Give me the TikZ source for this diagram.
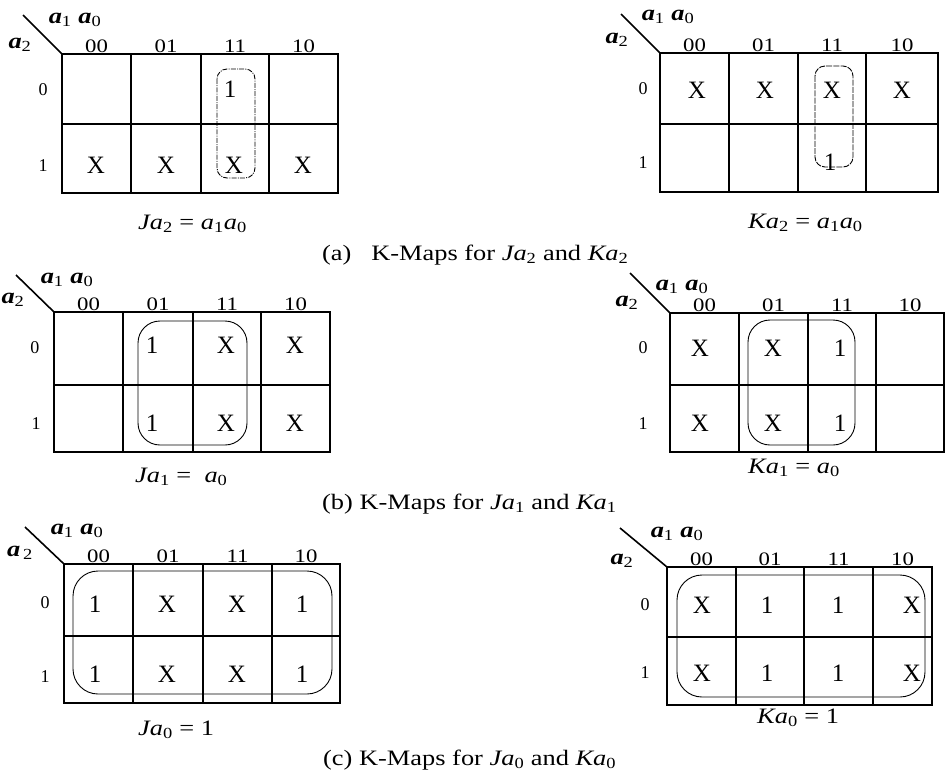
\documentclass[tikz,border=0pt]{standalone}
\usepackage{fontspec}
\setmainfont[FakeStretch=1.2]{Liberation Serif}
\newfontfamily\entryfont{Liberation Serif}
\newcommand\iv[2]{\textit{#1}\textsubscript{#2}}
\newcommand\bv[2]{\textbf{\textit{#1}}\textsubscript{#2}}
\tikzset{
  gridline/.style={line width=1.8pt, line cap=rect},
  diagline/.style={line width=1.6pt},
  loopline/.style={line width=0.9pt},
  entry/.style={font=\entryfont\fontsize{25}{27}\selectfont, inner sep=0pt},
  collab/.style={font=\fontsize{19}{21}\selectfont, anchor=base, inner sep=0pt},
  rowlab/.style={font=\entryfont\fontsize{18}{20}\selectfont, inner sep=0pt},
  varlab/.style={font=\fontsize{22}{24}\selectfont, inner sep=0pt},
  eqn/.style={font=\fontsize{22}{24}\selectfont, inner sep=0pt, anchor=base west},
  capt/.style={font=\fontsize{22}{24}\selectfont, inner sep=0pt, anchor=base west},
}
% name x0 x1 x2 x3 x4 y0 y1 y2
\newcommand\kgrid[9]{%
  \draw[gridline] (#2,#7) rectangle (#6,#9);
  \draw[gridline] (#2,#8) -- (#6,#8);
  \foreach \xx in {#3,#4,#5} \draw[gridline] (\xx,#7) -- (\xx,#9);
  \node[collab] (#1ca) at ({(#2+#3)/2},#7-2) {00};
  \node[collab] (#1cb) at ({(#3+#4)/2},#7-2) {01};
  \node[collab] (#1cc) at ({(#4+#5)/2},#7-2) {11};
  \node[collab] (#1cd) at ({(#5+#6)/2},#7-2) {10};
}
\begin{document}
\begin{tikzpicture}[x=1pt,y=-1pt]
\useasboundingbox (0,0) rectangle (946,772);

% ================= (a) left =================
\kgrid{aL}{62}{131}{201}{269}{338}{54}{124}{193}
\coordinate (aLd) at (23,15); \coordinate (aLk) at (62,54);
\draw[diagline] (aLd) -- (aLk);
\node[varlab] (aLh) at (75,20) {\bv{a}{1} \bv{a}{0}};
\node[varlab] (aLv) at (20,45) {\bv{a}{2}};
\node[rowlab] (aLr0) at (43,90) {0};
\node[rowlab] (aLr1) at (43,166) {1};
\node[entry] (aL01) at (230,89) {1};
\node[entry] (aLX1) at (96,165) {X};
\node[entry] (aLX2) at (166,165) {X};
\node[entry] (aLX3) at (234,165) {X};
\node[entry] (aLX4) at (303,165) {X};
\draw[loopline, dash pattern=on 5pt off 1.2pt on 1pt off 1.2pt, rounded corners=10pt] (217,69) rectangle (255,178);
\node[eqn] (aLe) at (138,229) {\iv{Ja}{2} = \iv{a}{1}\iv{a}{0}};

% ================= (a) right =================
\kgrid{aR}{660}{729}{798}{866}{938}{53}{124}{192}
\coordinate (aRd) at (621,14); \coordinate (aRk) at (660,53);
\draw[diagline] (aRd) -- (aRk);
\node[varlab] (aRh) at (668,17) {\bv{a}{1} \bv{a}{0}};
\node[varlab] (aRv) at (617,40) {\bv{a}{2}};
\node[rowlab] (aRr0) at (643,89) {0};
\node[rowlab] (aRr1) at (643,163) {1};
\node[entry] (aRX1) at (697,90) {X};
\node[entry] (aRX2) at (765,90) {X};
\node[entry] (aRX3) at (832,90) {X};
\node[entry] (aRX4) at (902,90) {X};
\node[entry] (aR1) at (830,162) {1};
\draw[loopline, dash pattern=on 6pt off 1.2pt, rounded corners=10pt] (815,66) rectangle (853,167);
\node[eqn] (aRe) at (748,228) {\iv{Ka}{2} = \iv{a}{1}\iv{a}{0}};

\node[capt] (capa) at (322,260) {(a)\ \ \ K-Maps for \iv{Ja}{2} and \iv{Ka}{2}};

% ================= (b) left =================
\kgrid{bL}{54}{123}{193}{261}{330}{312}{385}{452}
\coordinate (bLd) at (16,275); \coordinate (bLk) at (54,312);
\draw[diagline] (bLd) -- (bLk);
\node[varlab] (bLh) at (67,280) {\bv{a}{1} \bv{a}{0}};
\node[varlab] (bLv) at (13,300) {\bv{a}{2}};
\node[rowlab] (bLr0) at (35,348) {0};
\node[rowlab] (bLr1) at (36,424) {1};
\node[entry] (bL1a) at (152,345) {1};
\node[entry] (bLXa) at (226,345) {X};
\node[entry] (bLXb) at (295,345) {X};
\node[entry] (bL1b) at (152,423) {1};
\node[entry] (bLXc) at (226,423) {X};
\node[entry] (bLXd) at (295,423) {X};
\draw[loopline, rounded corners=22pt] (138,321) rectangle (247,445);
\node[eqn] (bLe) at (135,482) {\iv{Ja}{1} =\ \ \iv{a}{0}};

% ================= (b) right =================
\kgrid{bR}{670}{739}{808}{876}{944}{313}{385}{452}
\coordinate (bRd) at (630,273); \coordinate (bRk) at (670,313);
\draw[diagline] (bRd) -- (bRk);
\node[varlab] (bRh) at (682,287) {\bv{a}{1} \bv{a}{0}};
\node[varlab] (bRv) at (627,303) {\bv{a}{2}};
\node[rowlab] (bRr0) at (643,348) {0};
\node[rowlab] (bRr1) at (643,424) {1};
\node[entry] (bRXa) at (700,348) {X};
\node[entry] (bRXb) at (773,348) {X};
\node[entry] (bR1a) at (840,348) {1};
\node[entry] (bRXc) at (700,423) {X};
\node[entry] (bRXd) at (773,423) {X};
\node[entry] (bR1b) at (840,423) {1};
\draw[loopline, rounded corners=22pt] (748,320) rectangle (855,445);
\node[eqn] (bRe) at (748,473) {\iv{Ka}{1} = \iv{a}{0}};

\node[capt] (capb) at (322,509) {(b) K-Maps for \iv{Ja}{1} and \iv{Ka}{1}};

% ================= (c) left =================
\kgrid{cL}{64}{133}{203}{272}{340}{564}{636}{703}
\coordinate (cLd) at (25,527); \coordinate (cLk) at (64,564);
\draw[diagline] (cLd) -- (cLk);
\node[varlab] (cLh) at (77,531) {\bv{a}{1} \bv{a}{0}};
\node[varlab] (cLv) at (20,553) {\textbf{\textit{a}}\textsubscript{\,2}};
\node[rowlab] (cLr0) at (45,603) {0};
\node[rowlab] (cLr1) at (45,677) {1};
\node[entry] (cL1a) at (95,604) {1};
\node[entry] (cLXa) at (167,604) {X};
\node[entry] (cLXb) at (237,604) {X};
\node[entry] (cL1b) at (302,604) {1};
\node[entry] (cL1c) at (95,674) {1};
\node[entry] (cLXc) at (167,674) {X};
\node[entry] (cLXd) at (237,674) {X};
\node[entry] (cL1d) at (302,674) {1};
\draw[loopline, rounded corners=25pt] (73,571) rectangle (332,694);
\node[eqn] (cLe) at (138,735) {\iv{Ja}{0} = 1};

% ================= (c) right =================
\kgrid{cR}{667}{736}{804}{873}{932}{567}{637}{705}
\coordinate (cRd) at (620,528); \coordinate (cRk) at (667,567);
\draw[diagline] (cRd) -- (cRk);
\node[varlab] (cRh) at (677,534) {\bv{a}{1} \bv{a}{0}};
\node[varlab] (cRv) at (622,561) {\bv{a}{2}};
\node[rowlab] (cRr0) at (645,605) {0};
\node[rowlab] (cRr1) at (645,673) {1};
\node[entry] (cRXa) at (702,605) {X};
\node[entry] (cR1a) at (767,605) {1};
\node[entry] (cR1b) at (838,605) {1};
\node[entry] (cRXb) at (912,605) {X};
\node[entry] (cRXc) at (702,673) {X};
\node[entry] (cR1c) at (767,673) {1};
\node[entry] (cR1d) at (838,673) {1};
\node[entry] (cRXd) at (912,673) {X};
\draw[loopline, rounded corners=25pt] (677,575) rectangle (925,697);
\node[eqn] (cRe) at (757,723) {\iv{Ka}{0} = 1};

\node[capt] (capc) at (323,765) {(c) K-Maps for \iv{Ja}{0} and \iv{Ka}{0}};
\end{tikzpicture}
\end{document}
